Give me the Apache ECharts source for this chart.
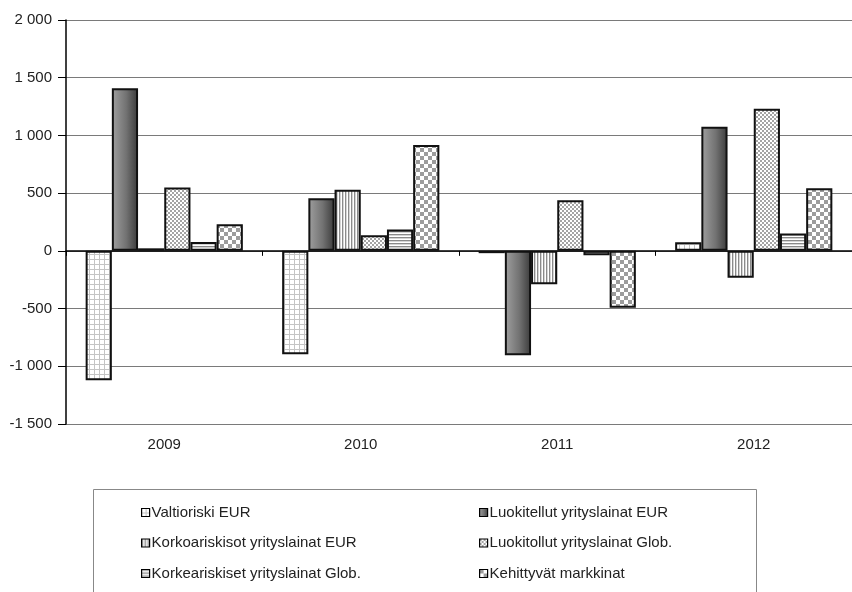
<!DOCTYPE html>
<html><head><meta charset="utf-8">
<script src="https://cdn.jsdelivr.net/npm/echarts@6/dist/echarts.min.js"></script>
<style>html,body{margin:0;padding:0;background:#fff}#c{width:852px;height:592px}</style>
</head><body><div id="c"></div>
<script>
const categories = ['2009', '2010', '2011', '2012'];
const seriesNames = [
  'Valtioriski EUR',
  'Luokitellut yrityslainat EUR',
  'Korkoariskisot yrityslainat EUR',
  'Luokitollut yrityslainat Glob.',
  'Korkeariskiset yrityslainat Glob.',
  'Kehittyvät markkinat'
];
const valtioriski = [-1120, -895, -20, 75];
const luokitellutEur = [1408, 455, -905, 1075];
const korkeaEur = [22, 530, -289, -234];
const luokitellutGlob = [548, 135, 439, 1231];
const korkeaGlob = [76, 184, -37, 150];
const kehittyvat = [230, 918, -492, 543];
const yMin = -1500, yMax = 2000, yInterval = 500;

function pat(w, h, draw) {
  const c = document.createElement('canvas');
  c.width = w; c.height = h;
  const g = c.getContext('2d');
  g.fillStyle = '#fff'; g.fillRect(0, 0, w, h);
  draw(g);
  return { image: c, repeat: 'repeat' };
}
const fills = [
  pat(5, 5, g => { g.fillStyle = '#c4c4c4'; g.fillRect(4, 0, 1, 5); g.fillRect(0, 4, 5, 1); }),
  new echarts.graphic.LinearGradient(0, 0, 1, 0, [
    { offset: 0, color: '#a0a0a0' }, { offset: 0.55, color: '#727272' }, { offset: 1, color: '#3a3a3a' }]),
  pat(3, 3, g => { g.fillStyle = '#8a8a8a'; g.fillRect(0, 0, 1, 3); g.fillStyle = '#d4d4d4'; g.fillRect(1, 0, 1, 3); }),
  pat(4, 4, g => { g.fillStyle = '#a4a4a4'; g.fillRect(0, 0, 2, 2); g.fillRect(2, 2, 2, 2); }),
  pat(3, 3, g => { g.fillStyle = '#8a8a8a'; g.fillRect(0, 0, 3, 1); g.fillStyle = '#d4d4d4'; g.fillRect(0, 1, 3, 1); }),
  pat(8, 8, g => { g.fillStyle = '#9c9c9c'; g.fillRect(0, 0, 4, 4); g.fillRect(4, 4, 4, 4); })
];
const dataSets = [valtioriski, luokitellutEur, korkeaEur, luokitellutGlob, korkeaGlob, kehittyvat];

function fmt(v) {
  const s = Math.abs(v).toString().replace(/\B(?=(\d{3})+(?!\d))/g, ' ');
  return (v < 0 ? '-' : '') + s;
}
const font = 'Liberation Sans, Arial, sans-serif';

const chart = echarts.init(document.getElementById('c'), null, { renderer: 'canvas' });
chart.setOption({
  animation: false,
  backgroundColor: '#fff',
  grid: { left: 66, right: -6, top: 20, bottom: 168 },
  xAxis: [
    {
      type: 'category', data: categories, position: 'top',
      axisLine: { onZero: true, lineStyle: { color: '#000', width: 1.5 } },
      axisTick: { show: true, inside: true, length: 5, lineStyle: { color: '#000' } },
      axisLabel: { show: false }, splitLine: { show: false }
    },
    {
      type: 'category', data: categories, position: 'bottom',
      axisLine: { show: false, onZero: false }, axisTick: { show: false },
      axisLabel: { show: true, margin: 13, fontSize: 15, fontFamily: font, color: '#222' },
      splitLine: { show: false }
    }
  ],
  yAxis: {
    type: 'value', min: yMin, max: yMax, interval: yInterval,
    axisLine: { show: true, lineStyle: { color: '#000', width: 1.5 } },
    axisTick: { show: true, length: 8, lineStyle: { color: '#000' } },
    axisLabel: { formatter: fmt, margin: 14, fontSize: 15, fontFamily: font, color: '#222' },
    splitLine: { show: true, lineStyle: { color: '#7a7a7a', width: 1 } }
  },
  legend: [
    {
      orient: 'vertical', left: 136, top: 500, itemGap: 15.5, itemWidth: 8, itemHeight: 8,
      icon: 'rect', data: [seriesNames[0], seriesNames[2], seriesNames[4]],
      itemStyle: { borderColor: '#000', borderWidth: 1.2 },
      textStyle: { fontSize: 15, lineHeight: 15, fontFamily: font, color: '#222', padding: [0, 0, 0, -3] }
    },
    {
      orient: 'vertical', left: 474, top: 500, itemGap: 15.5, itemWidth: 8, itemHeight: 8,
      icon: 'rect', data: [seriesNames[1], seriesNames[3], seriesNames[5]],
      itemStyle: { borderColor: '#000', borderWidth: 1.2 },
      textStyle: { fontSize: 15, lineHeight: 15, fontFamily: font, color: '#222', padding: [0, 0, 0, -3] }
    }
  ],
  graphic: [{
    type: 'rect', shape: { x: 93.5, y: 489.5, width: 663, height: 130 },
    style: { fill: 'none', stroke: '#888', lineWidth: 1 }, silent: true
  }],
  series: dataSets.map((d, i) => ({
    name: seriesNames[i], type: 'bar', xAxisIndex: 0, data: d,
    barGap: '0%', barCategoryGap: '20%',
    itemStyle: { color: fills[i], borderColor: '#111', borderWidth: 2 }
  }))
});
</script></body></html>
